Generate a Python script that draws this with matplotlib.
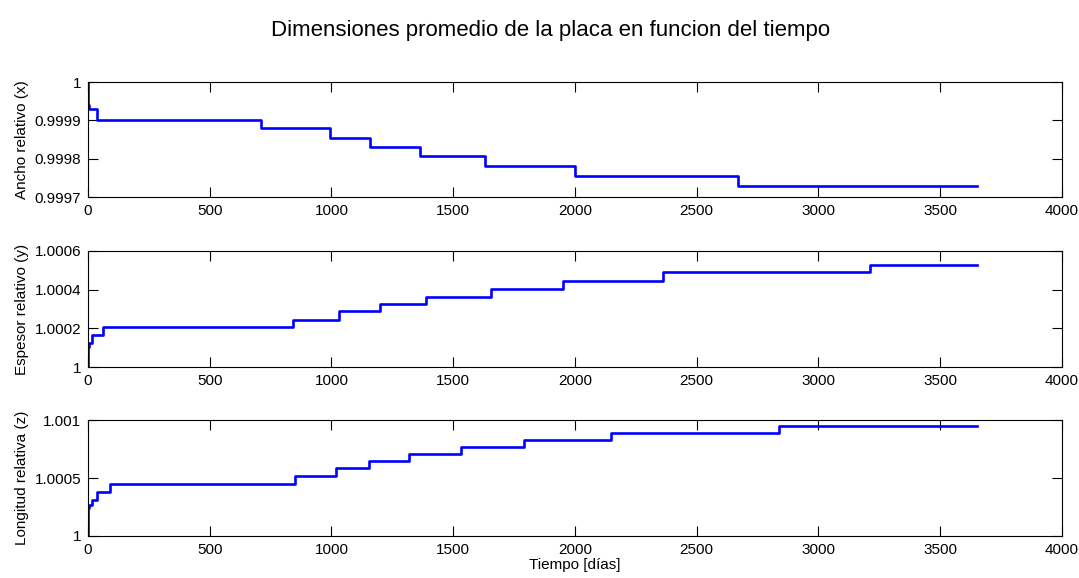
import matplotlib
matplotlib.use("Agg")
import matplotlib.pyplot as plt
from matplotlib.ticker import FuncFormatter

plt.rcParams['font.family'] = ['Liberation Sans', 'DejaVu Sans']

# Dias donde cambia cada dimension (escalones) y valores relativos
dias_x = [0, 1, 5, 36, 712, 995, 1160, 1365, 1630, 2000, 2670, 3650]
ancho_x = [1.0, 0.99994, 0.99993, 0.999902, 0.999881, 0.999853, 0.999830,
           0.999806, 0.999780, 0.999756, 0.999730, 0.999730]

dias_y = [0, 1, 4, 15, 60, 840, 1030, 1200, 1390, 1655, 1950, 2360, 3210, 3650]
espesor_y = [1.0, 1.000105, 1.000125, 1.000168, 1.000209, 1.000245, 1.000287,
             1.000323, 1.000364, 1.000405, 1.000446, 1.000492, 1.000528, 1.000528]

dias_z = [0, 1, 4, 15, 38, 90, 850, 1020, 1155, 1320, 1530, 1790, 2150, 2840, 3650]
longitud_z = [1.0, 1.00024, 1.00027, 1.00031, 1.00038, 1.000445, 1.000517,
              1.000586, 1.000647, 1.000707, 1.000767, 1.000828, 1.000888,
              1.000948, 1.000948]

xticks = [0, 500, 1000, 1500, 2000, 2500, 3000, 3500, 4000]
yticks_x = [0.9997, 0.9998, 0.9999, 1.0]
yticks_y = [1.0, 1.0002, 1.0004, 1.0006]
yticks_z = [1.0, 1.0005, 1.001]

fig = plt.figure(figsize=(10.79, 5.78), dpi=100)
fig.text(0.5105, 0.948, "Dimensiones promedio de la placa en funcion del tiempo",
         ha='center', va='center', fontsize=16)

posiciones = [[0.0816, 0.659, 0.9025, 0.199],
              [0.0816, 0.365, 0.9025, 0.201],
              [0.0816, 0.073, 0.9025, 0.200]]
series = [(dias_x, ancho_x, yticks_x, "Ancho relativo (x)"),
          (dias_y, espesor_y, yticks_y, "Espesor relativo (y)"),
          (dias_z, longitud_z, yticks_z, "Longitud relativa (z)")]

fmt = FuncFormatter(lambda v, pos: "%g" % round(v, 6))

for pos, (t, v, yt, etiqueta) in zip(posiciones, series):
    ax = fig.add_axes(pos)
    ax.plot(t, v, color=(0, 0, 1), linewidth=1.9, drawstyle='steps-post')
    ax.set_xlim(0, 4000)
    ax.set_ylim(yt[0], yt[-1])
    ax.set_xticks(xticks)
    ax.set_yticks(yt)
    ax.yaxis.set_major_formatter(fmt)
    ax.set_ylabel(etiqueta, fontsize=11, labelpad=4)
    ax.tick_params(direction='in', top=True, right=True, labelsize=11,
                   length=7, width=0.8, pad=5)
    for s in ax.spines.values():
        s.set_linewidth(0.8)

ax.set_xlabel("Tiempo [días]", fontsize=11, labelpad=1)

fig.savefig("out.png", dpi=100)
